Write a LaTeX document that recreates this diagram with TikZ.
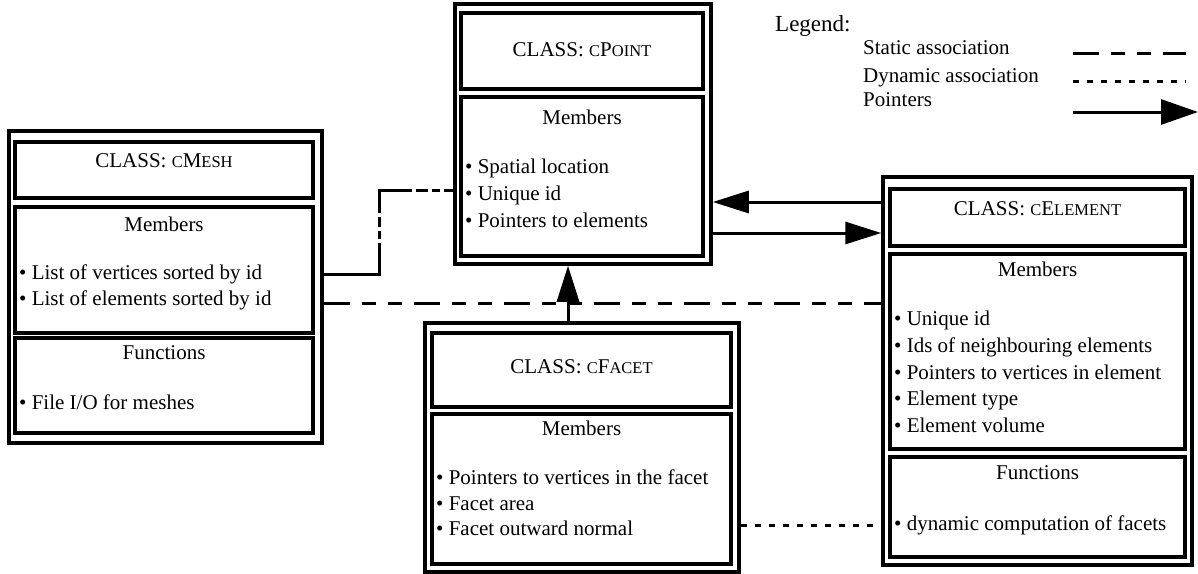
\documentclass[tikz,border=0pt]{standalone}
\usepackage{fontspec}
\setmainfont{Liberation Serif}
\usetikzlibrary{arrows.meta}
\newcommand{\smcap}[1]{{\fontsize{16.5}{18}\selectfont\MakeUppercase{#1}}}

\begin{document}
\begin{tikzpicture}[x=1pt, y=-1pt,
    box/.style={draw, line width=3.5pt, inner sep=0pt},
    txt/.style={inner sep=0pt, yshift=-4pt, font=\fontsize{21}{25}\selectfont},
    item/.style={txt, anchor=mid west},
    static/.style={line width=3pt, dash pattern=on 26pt off 12pt on 14pt off 12pt on 14pt off 12pt},
    dynamic/.style={line width=3pt, dash pattern=on 6pt off 8pt},
    pointer/.style={line width=3pt, -{Triangle[length=36pt, width=22pt]}},
    mixed/.style={line width=3pt, dash pattern=on 86pt off 4pt on 8pt off 4pt on 10pt off 4pt on 56pt off 4pt on 12pt off 4pt on 8pt off 4pt on 40pt}]
    \useasboundingbox (0,0) rectangle (1198,573);

    % cMesh
    \node[box, minimum width=313pt, minimum height=312pt] (mesh) at (165.5,287) {};
    \node[box, minimum width=298pt, minimum height=56pt] (meshT) at (164,170) {};
    \node[box, minimum width=298pt, minimum height=126pt] (meshM) at (164,270) {};
    \node[box, minimum width=298pt, minimum height=95pt] (meshF) at (164,385.5) {};
    \node[txt, anchor=mid] (meshName) at (164,161) {CLASS: \smcap{c}M\smcap{esh}};
    \node[txt, anchor=mid] (meshMem) at (164,225) {Members};
    \node[item] (meshA) at (19,273) {\textbullet~List of vertices sorted by id};
    \node[item] (meshB) at (19,299) {\textbullet~List of elements sorted by id};
    \node[txt, anchor=mid] (meshFun) at (164,353) {Functions};
    \node[item] (meshC) at (19,403) {\textbullet~File I/O for meshes};

    % cPoint
    \node[box, minimum width=256pt, minimum height=260pt] (point) at (583,134) {};
    \node[box, minimum width=242pt, minimum height=76pt] (pointT) at (582,51) {};
    \node[box, minimum width=242pt, minimum height=159pt] (pointM) at (582,176.5) {};
    \node[txt, anchor=mid] (pointName) at (582,50) {CLASS: \smcap{c}P\smcap{oint}};
    \node[txt, anchor=mid] (pointMem) at (582,118) {Members};
    \node[item] (pointA) at (465,167) {\textbullet~Spatial location};
    \node[item] (pointB) at (465,194) {\textbullet~Unique id};
    \node[item] (pointC) at (465,221) {\textbullet~Pointers to elements};

    % cFacet
    \node[box, minimum width=314pt, minimum height=249pt] (facet) at (582,447.5) {};
    \node[box, minimum width=299pt, minimum height=74pt] (facetT) at (581.5,370) {};
    \node[box, minimum width=299pt, minimum height=150pt] (facetM) at (581.5,489) {};
    \node[txt, anchor=mid] (facetName) at (581.5,367) {CLASS: \smcap{c}F\smcap{acet}};
    \node[txt, anchor=mid] (facetMem) at (581.5,429) {Members};
    \node[item] (facetA) at (436,478) {\textbullet~Pointers to vertices in the facet};
    \node[item] (facetB) at (436,504) {\textbullet~Facet area};
    \node[item] (facetC) at (436,529) {\textbullet~Facet outward normal};

    % cElement
    \node[box, minimum width=309pt, minimum height=388pt] (elem) at (1037.5,371) {};
    \node[box, minimum width=295pt, minimum height=57pt] (elemT) at (1037.5,217.5) {};
    \node[box, minimum width=295pt, minimum height=195pt] (elemM) at (1037.5,351.5) {};
    \node[box, minimum width=295pt, minimum height=100pt] (elemF) at (1037.5,507) {};
    \node[txt, anchor=mid] (elemName) at (1037.5,209) {CLASS: \smcap{c}E\smcap{lement}};
    \node[txt, anchor=mid] (elemMem) at (1037.5,270) {Members};
    \node[item] (elemA) at (894,319) {\textbullet~Unique id};
    \node[item] (elemB) at (894,346) {\textbullet~Ids of neighbouring elements};
    \node[item] (elemC) at (894,373) {\textbullet~Pointers to vertices in element};
    \node[item] (elemD) at (894,399) {\textbullet~Element type};
    \node[item] (elemE) at (894,426) {\textbullet~Element volume};
    \node[txt, anchor=mid] (elemFun) at (1037.5,473) {Functions};
    \node[item] (elemG) at (894,524) {\textbullet~dynamic computation of facets};

    % Links between classes
    \coordinate (bend) at (379,190);
    \draw[mixed] (mesh.east |- 0,274) -| (bend) -- (point.west |- bend);
    \draw[static] (mesh.east |- 0,303) -- (elem.west |- 0,303);
    \draw[pointer] (elem.west |- 0,202) -- (point.east |- 0,202);
    \draw[pointer] (point.east |- 0,233) -- (elem.west |- 0,233);
    \draw[pointer] (facet.north -| 568,0) -- (point.south -| 568,0);
    \draw[dynamic] (facet.east |- elemG) -- (elem.west |- elemG);

    % Legend
    \node[anchor=mid west, inner sep=0pt, yshift=-4pt, font=\fontsize{23}{27}\selectfont] (legend) at (775,25) {Legend:};
    \node[item] (legStatic) at (863,48) {Static association};
    \node[item] (legDynamic) at (863,76) {Dynamic association};
    \node[item] (legPointer) at (863,100) {Pointers};
    \coordinate (lsA) at (1073,53);
    \coordinate (lsB) at (1186,53);
    \coordinate (ldA) at (1073,81);
    \coordinate (ldB) at (1186,81);
    \coordinate (lpA) at (1073,112);
    \coordinate (lpB) at (1198,112);
    \draw[static] (lsA) -- (lsB);
    \draw[dynamic] (ldA) -- (ldB);
    \draw[line width=3pt, -{Triangle[length=37pt, width=25pt]}] (lpA) -- (lpB);
\end{tikzpicture}
\end{document}
